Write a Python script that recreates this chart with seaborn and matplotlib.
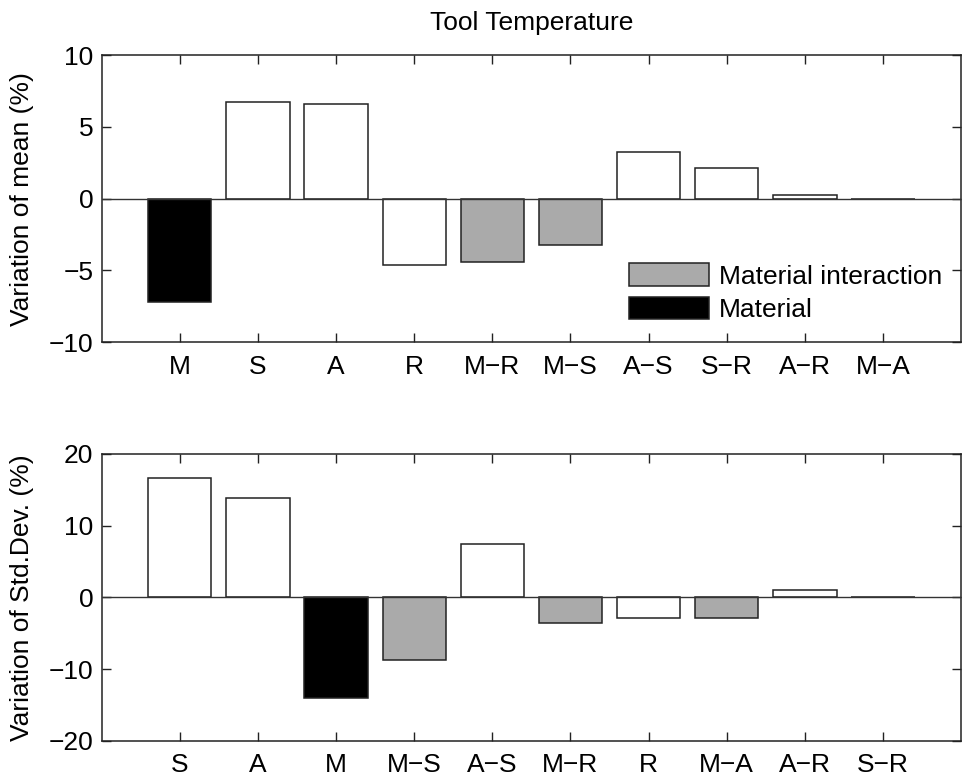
import matplotlib
matplotlib.use("Agg")
import matplotlib.pyplot as plt
import seaborn as sns
import pandas as pd
from matplotlib.patches import Patch

sns.set_theme(style="white")
plt.rcParams['font.family'] = ['Liberation Sans', 'DejaVu Sans']
plt.rcParams['text.color'] = 'black'
plt.rcParams['axes.labelcolor'] = 'black'
plt.rcParams['xtick.labelcolor'] = 'black'
plt.rcParams['ytick.labelcolor'] = 'black'

# Top panel: variation of mean
mean_labels = ["M", "S", "A", "R", "M\u2212R", "M\u2212S", "A\u2212S", "S\u2212R", "A\u2212R", "M\u2212A"]
mean_values = [-7.21, 6.73, 6.61, -4.61, -4.41, -3.25, 3.23, 2.14, 0.26, -0.05]
mean_groups = ["Material", "Other", "Other", "Other", "Material interaction", "Material interaction",
               "Other", "Other", "Other", "Material interaction"]

# Bottom panel: variation of std. dev.
std_labels = ["S", "A", "M", "M\u2212S", "A\u2212S", "M\u2212R", "R", "M\u2212A", "A\u2212R", "S\u2212R"]
std_values = [16.6, 13.9, -13.95, -8.75, 7.39, -3.49, -2.93, -2.84, 1.06, 0.12]
std_groups = ["Other", "Other", "Material", "Material interaction", "Other", "Material interaction",
              "Other", "Material interaction", "Other", "Other"]

group_colors = {"Other": "#ffffff", "Material interaction": "#aaaaaa", "Material": "#000000"}
FS = 19

fig = plt.figure(figsize=(9.63, 7.78), dpi=100)
ax1 = fig.add_axes([0.1056, 0.560, 0.8925, 0.3693])
ax2 = fig.add_axes([0.1056, 0.0476, 0.8925, 0.3689])


def draw(ax, labels, values, groups, ylim, yticks, ylabel):
    df = pd.DataFrame({"label": labels, "value": values, "group": groups})
    pal = [group_colors[g] for g in groups]
    sns.barplot(data=df, x="label", y="value", hue="label", palette=pal, legend=False,
                order=labels, width=0.81, edgecolor="#222222", linewidth=1.1, ax=ax, zorder=2)
    ax.axhline(0, color="#333333", lw=1.0, zorder=3)
    ax.set_xlim(-1, len(labels))
    ax.set_ylim(*ylim)
    ax.set_yticks(yticks)
    ax.set_yticklabels([("\u2212" + str(abs(t))) if t < 0 else str(t) for t in yticks])
    ax.set_xlabel("")
    ax.set_ylabel(ylabel, fontsize=FS, color="black")
    ax.yaxis.set_label_coords(-0.079, 0.5)
    ax.tick_params(axis="both", which="both", direction="in", length=6.5, width=1.0,
                   top=True, right=True, bottom=True, left=True, labelsize=FS, color="#222222",
                   labelcolor="black")
    ax.tick_params(axis="x", pad=9)
    ax.tick_params(axis="y", pad=6)
    for s in ax.spines.values():
        s.set_color("#222222")
        s.set_linewidth(1.1)
        s.set_visible(True)


draw(ax1, mean_labels, mean_values, mean_groups, (-10, 10), [-10, -5, 0, 5, 10], "Variation of mean (%)")
draw(ax2, std_labels, std_values, std_groups, (-20, 20), [-20, -10, 0, 10, 20], "Variation of Std.Dev. (%)")

fig.text(0.5525, 1 - 23 / 778, "Tool Temperature", fontsize=FS, ha="center", va="center", color="black")

handles = [Patch(facecolor=group_colors["Material interaction"], edgecolor="#222222", lw=1.1),
           Patch(facecolor=group_colors["Material"], edgecolor="#222222", lw=1.1)]
ax1.legend(handles, ["Material interaction", "Material"], loc="upper left",
           bbox_to_anchor=(0.614, 0.275), frameon=False, fontsize=FS,
           handlelength=3.03, handleheight=0.95, handletextpad=0.35, labelspacing=0.3,
           borderaxespad=0, borderpad=0, labelcolor="black")

fig.savefig("out.png", dpi=100)
